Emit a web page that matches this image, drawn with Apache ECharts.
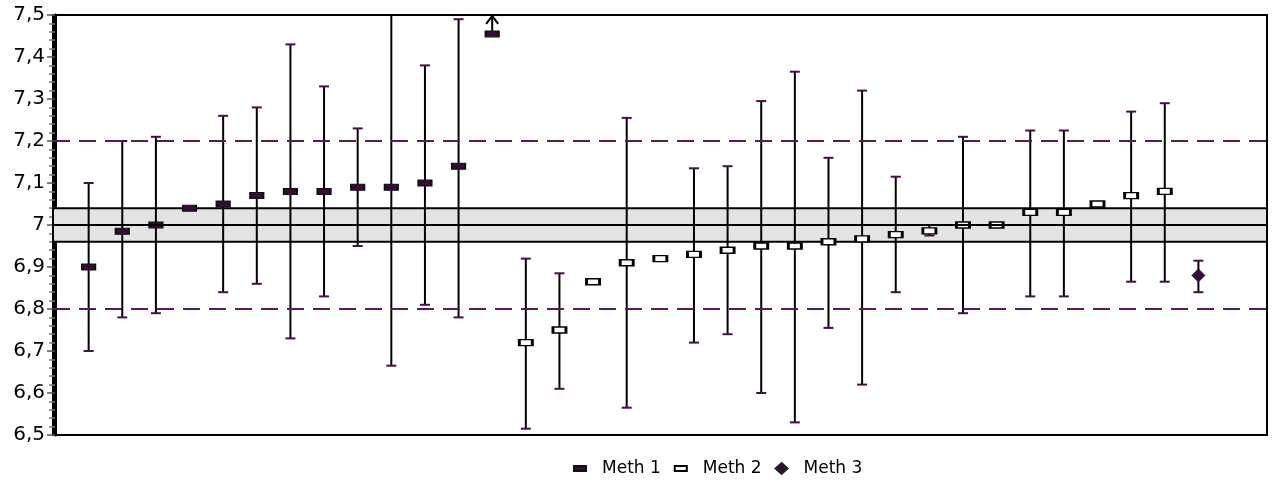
<!DOCTYPE html>
<html>
<head>
<meta charset="utf-8">
<script src="https://cdn.jsdelivr.net/npm/echarts@6/dist/echarts.min.js"></script>
<style>
  html, body { margin: 0; padding: 0; background: #fff; }
  #chart { width: 1273px; height: 482px; }
</style>
</head>
<body>
<div id="chart"></div>
<script>
// Laboratory results: mean value and uncertainty interval per lab, grouped by method
const meth1Labs = [1, 2, 3, 4, 5, 6, 7, 8, 9, 10, 11, 12, 13];
const meth1Mean = [6.90, 6.985, 7.00, 7.04, 7.05, 7.07, 7.08, 7.08, 7.09, 7.09, 7.10, 7.14, 7.455];
const meth1Low  = [6.70, 6.78, 6.79, null, 6.84, 6.86, 6.73, 6.83, 6.95, 6.665, 6.81, 6.78, null];
const meth1High = [7.10, 7.20, 7.21, null, 7.26, 7.28, 7.43, 7.33, 7.23, 7.60, 7.38, 7.49, null];

const meth2Labs = [14, 15, 16, 17, 18, 19, 20, 21, 22, 23, 24, 25, 26, 27, 28, 29, 30, 31, 32, 33];
const meth2Mean = [6.72, 6.75, 6.865, 6.91, 6.92, 6.93, 6.94, 6.95, 6.95, 6.96, 6.967, 6.977, 6.986, 7.00, 7.00, 7.03, 7.03, 7.05, 7.07, 7.08];
const meth2Low  = [6.515, 6.61, null, 6.565, null, 6.72, 6.74, 6.60, 6.53, 6.755, 6.62, 6.84, 6.975, 6.79, null, 6.83, 6.83, null, 6.865, 6.865];
const meth2High = [6.92, 6.885, null, 7.255, null, 7.135, 7.14, 7.295, 7.365, 7.16, 7.32, 7.115, 7.00, 7.21, null, 7.225, 7.225, null, 7.27, 7.29];

const meth3Labs = [34];
const meth3Mean = [6.88];
const meth3Low  = [6.84];
const meth3High = [6.915];

// Labs whose result lies above the plotted range (marked with an arrow)
const offScaleLabs = [13];

// Assigned value, its uncertainty band and the tolerance limits
const assignedValue = 7.0;
const bandLow = 6.96;
const bandHigh = 7.04;
const limitLow = 6.8;
const limitHigh = 7.2;

const legendNames = ['Meth 1', 'Meth 2', 'Meth 3'];

const capColor = '#4a0d4a';
const limitColor = '#5a1a5a';

function pairs(labs, vals) {
  return labs.map((x, i) => [x, vals[i]]);
}
function bars(labs, lo, hi) {
  const out = [];
  labs.forEach((x, i) => {
    if (lo[i] != null && hi[i] != null) out.push([x, lo[i], hi[i]]);
  });
  return out;
}

function renderErrorBar(params, api) {
  const rect = params.coordSys;
  const x = api.value(0);
  const pLo = api.coord([x, api.value(1)]);
  const pHi = api.coord([x, api.value(2)]);
  const top = rect.y, bottom = rect.y + rect.height;
  const yLo = Math.min(pLo[1], bottom);
  const yHi = Math.max(pHi[1], top);
  const cap = 5;
  const children = [
    { type: 'line', shape: { x1: pLo[0], y1: yLo, x2: pHi[0], y2: yHi },
      style: { stroke: '#000', lineWidth: 2 } }
  ];
  if (pLo[1] <= bottom) {
    children.push({ type: 'line', shape: { x1: pLo[0] - cap, y1: pLo[1], x2: pLo[0] + cap, y2: pLo[1] },
      style: { stroke: capColor, lineWidth: 2 } });
  }
  if (pHi[1] >= top) {
    children.push({ type: 'line', shape: { x1: pHi[0] - cap, y1: pHi[1], x2: pHi[0] + cap, y2: pHi[1] },
      style: { stroke: capColor, lineWidth: 2 } });
  }
  return { type: 'group', children: children };
}

function renderArrow(params, api) {
  const p = api.coord([api.value(0), api.value(1)]);
  return {
    type: 'group',
    children: [
      { type: 'line', shape: { x1: p[0], y1: p[1] - 3, x2: p[0], y2: p[1] - 18 },
        style: { stroke: '#000', lineWidth: 2 } },
      { type: 'polyline', shape: { points: [[p[0] - 6, p[1] - 10], [p[0], p[1] - 18], [p[0] + 6, p[1] - 10]] },
        style: { stroke: '#000', lineWidth: 2, fill: null } }
    ]
  };
}

const offScaleData = offScaleLabs.map(x => [x, meth1Mean[meth1Labs.indexOf(x)]]);

const chart = echarts.init(document.getElementById('chart'), null, { renderer: 'canvas' });

chart.setOption({
  animation: false,
  backgroundColor: '#fff',
  textStyle: { fontFamily: '"DejaVu Sans", sans-serif' },
  grid: {
    left: 53, right: 6, top: 15, bottom: 47,
    show: true, borderColor: '#000', borderWidth: 2, backgroundColor: 'transparent'
  },
  xAxis: {
    type: 'value', min: -0.06, max: 36.04,
    show: false
  },
  yAxis: {
    type: 'value', min: 6.5, max: 7.5, interval: 0.1,
    axisLine: { show: true, lineStyle: { color: '#000', width: 3 } },
    axisTick: { show: true, inside: false, length: 8, lineStyle: { color: '#555', width: 1.5 } },
    minorTick: { show: true, splitNumber: 5, length: 6, lineStyle: { color: '#777', width: 1.5 } },
    splitLine: { show: false },
    axisLabel: {
      color: '#000', fontSize: 20, margin: 8, fontFamily: '"DejaVu Sans", sans-serif',
      formatter: v => String(Math.round(v * 10) / 10).replace('.', ',')
    }
  },
  legend: {
    data: [
      { name: 'Meth 1', icon: 'path://M0,0H12V5H0Z' },
      { name: 'Meth 2', icon: 'path://M0,0H12V5H0Z' },
      { name: 'Meth 3', icon: 'diamond' }
    ],
    top: 455, left: 568,
    itemWidth: 12, itemHeight: 11, itemGap: 13,
    textStyle: { color: '#000', fontSize: 17, padding: [0, 0, 0, 11], fontFamily: '"DejaVu Sans", sans-serif' }
  },
  series: [
    {
      // uncertainty band around the assigned value
      name: 'band', type: 'line', data: [], z: 1, silent: true,
      markArea: {
        silent: true,
        itemStyle: { color: '#e3e3e3', borderColor: '#000', borderWidth: 2 },
        data: [[{ yAxis: bandLow }, { yAxis: bandHigh }]]
      }
    },
    {
      name: 'limits', type: 'line', data: [], z: 2, silent: true,
      markLine: {
        silent: true, symbol: 'none', label: { show: false },
        data: [
          { yAxis: assignedValue, lineStyle: { color: '#000', width: 2, type: 'solid' } },
          { yAxis: limitHigh, lineStyle: { color: limitColor, width: 2, type: [17, 9] } },
          { yAxis: limitLow, lineStyle: { color: limitColor, width: 2, type: [17, 9] } }
        ]
      }
    },
    { name: 'err1', type: 'custom', z: 3, renderItem: renderErrorBar, data: bars(meth1Labs, meth1Low, meth1High), silent: true },
    { name: 'err2', type: 'custom', z: 3, renderItem: renderErrorBar, data: bars(meth2Labs, meth2Low, meth2High), silent: true },
    { name: 'err3', type: 'custom', z: 3, renderItem: renderErrorBar, data: bars(meth3Labs, meth3Low, meth3High), silent: true },
    { name: 'arrow', type: 'custom', z: 3, renderItem: renderArrow, data: offScaleData, silent: true },
    {
      name: legendNames[0], type: 'scatter', z: 4,
      symbol: 'rect', symbolSize: [13, 6],
      itemStyle: { color: '#3a0b3a', borderColor: '#111', borderWidth: 1.5, opacity: 1 },
      data: pairs(meth1Labs, meth1Mean)
    },
    {
      name: legendNames[1], type: 'scatter', z: 4,
      symbol: 'rect', symbolSize: [13, 6],
      itemStyle: { color: '#fff', borderColor: '#000', borderWidth: 2, opacity: 1 },
      data: pairs(meth2Labs, meth2Mean)
    },
    {
      name: legendNames[2], type: 'scatter', z: 4,
      symbol: 'diamond', symbolSize: 13,
      itemStyle: { color: '#3a0b3a', borderColor: '#222', borderWidth: 1, opacity: 1 },
      data: pairs(meth3Labs, meth3Mean)
    }
  ]
});
</script>
</body>
</html>
